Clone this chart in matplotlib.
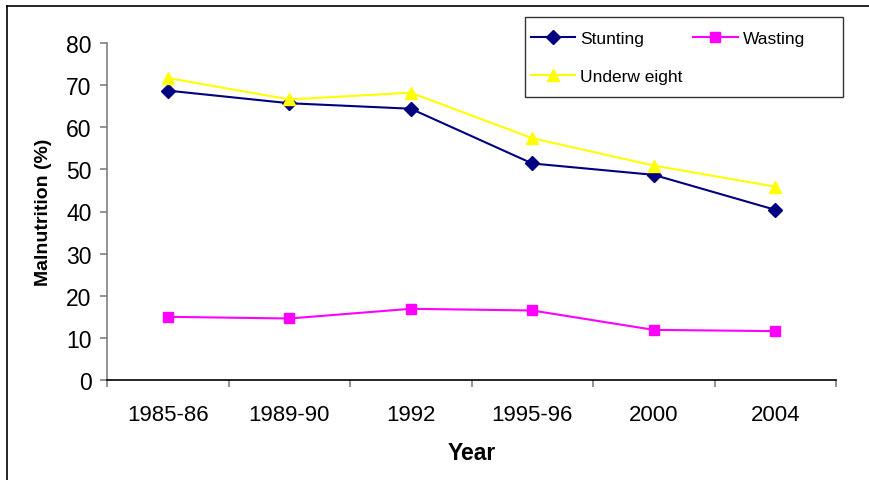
import numpy as np
import matplotlib.pyplot as plt
from matplotlib.lines import Line2D
from matplotlib.patches import Rectangle

plt.rcParams['font.family'] = ['Liberation Sans', 'DejaVu Sans']

years = ['1985-86', '1989-90', '1992', '1995-96', '2000', '2004']
stunting = [68.7, 65.7, 64.4, 51.4, 48.7, 40.4]
wasting = [15.0, 14.6, 16.9, 16.5, 11.9, 11.6]
underweight = [71.7, 66.6, 68.2, 57.4, 50.9, 45.9]

W, H = 869, 481
fig = plt.figure(figsize=(W / 100, H / 100), dpi=100)
ax = fig.add_axes([107 / W, 1 - 381 / H, (836 - 107) / W, (381 - 44) / H])

x = np.arange(len(years))
l1, = ax.plot(x, stunting, color='#000080', marker='D', markersize=7, lw=1.5, label='Stunting')
l2, = ax.plot(x, wasting, color='#FF00FF', marker='s', markersize=7, lw=1.5, label='Wasting')
l3, = ax.plot(x, underweight, color='#FFFF00', marker='^', markersize=9, lw=1.5, label='Underw eight')

ax.set_xlim(-0.5, len(years) - 0.5)
ax.set_ylim(0, 80)
ax.set_yticks(np.arange(0, 81, 10))
ax.set_xticks(x)
ax.set_xticklabels(years)
ax.set_xticks(np.arange(-0.5, len(years)), minor=True)
ax.tick_params(axis='x', which='major', length=0, labelsize=16, pad=17)
ax.tick_params(axis='x', which='minor', length=5, color='#808080', width=1.2)
ax.tick_params(axis='y', length=5, color='#808080', width=1.2, labelsize=16.5, pad=6)

for s in ['top', 'right']:
    ax.spines[s].set_visible(False)
ax.spines['left'].set_color('#808080')
ax.spines['left'].set_linewidth(1.2)
ax.spines['bottom'].set_color('black')
ax.spines['bottom'].set_linewidth(1.2)

ax.set_xlabel('Year', fontsize=16.5, fontweight='bold', labelpad=12)
ax.set_ylabel('Malnutrition (%)', fontsize=14, fontweight='bold', labelpad=10)

# legend box drawn separately, entries placed inside it
fig.add_artist(Rectangle((525 / W, 1 - 98 / H), (843 - 525) / W, (98 - 18) / H,
                         transform=fig.transFigure, fill=False, edgecolor='#333333', lw=1.0))
leg = fig.legend([l1, l3, l2], ['Stunting', 'Underw eight', 'Wasting'], ncol=2,
                 loc='upper left', bbox_to_anchor=(531 / W, 1 - 32 / H),
                 fontsize=12.5, frameon=False,
                 handlelength=2.55, handletextpad=0.3, columnspacing=0.6,
                 labelspacing=1.3, borderpad=0, borderaxespad=0)

# partial outer frame (top and left)
fig.add_artist(Line2D([7 / W, 1], [1 - 7 / H, 1 - 7 / H], color='black', lw=1.2, transform=fig.transFigure))
fig.add_artist(Line2D([7 / W, 7 / W], [0, 1 - 7 / H], color='black', lw=1.2, transform=fig.transFigure))

fig.savefig('out.png', dpi=100)
